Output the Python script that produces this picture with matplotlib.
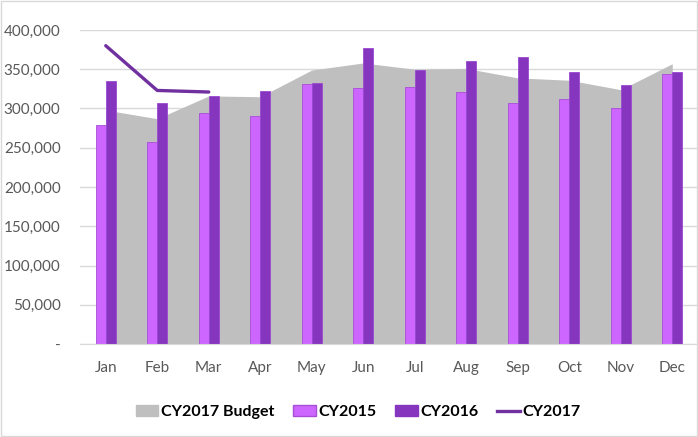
import matplotlib
matplotlib.use("Agg")
import matplotlib.pyplot as plt
from matplotlib.patches import Patch, Rectangle
from matplotlib.lines import Line2D
from matplotlib.ticker import FuncFormatter
import numpy as np

months = ["Jan", "Feb", "Mar", "Apr", "May", "Jun", "Jul", "Aug", "Sep", "Oct", "Nov", "Dec"]
budget_2017 = [298000, 287000, 316000, 315000, 349000, 358000, 350000, 351000, 339000, 336000, 324000, 357000]
cy2015 = [279000, 257000, 294000, 291000, 331000, 326000, 327000, 321000, 307000, 312000, 300000, 344000]
cy2016 = [335000, 307000, 316000, 322000, 333000, 377000, 349000, 360000, 366000, 347000, 330000, 346000]
cy2017 = [380000, 323000, 321000]
yticks = [0, 50000, 100000, 150000, 200000, 250000, 300000, 350000, 400000]

plt.rcParams['font.family'] = ['Lato', 'DejaVu Sans']

fig = plt.figure(figsize=(6.98, 4.37), dpi=100)
ax = fig.add_axes([80/698, 1-344/437, 618/698, 314/437])

x = np.arange(len(months))
w = 0.19
gray = "#BFBFBF"
pink = "#CC66FF"
purple = "#8535BE"
line_c = "#7030A0"

ax.fill_between(x, budget_2017, 0, color=gray, lw=0, zorder=1)
ax.bar(x - w/2, cy2015, width=w, color=pink, edgecolor="#A64FD6", linewidth=0.6, zorder=2)
ax.bar(x + w/2, cy2016, width=w, color=purple, edgecolor="#9A4AD0", linewidth=0.6, zorder=2)
ax.plot(x[:len(cy2017)], cy2017, color=line_c, lw=2.4, zorder=3, solid_capstyle='round')

ax.set_xlim(-0.5, 11.5)
ax.set_ylim(0, 400000)
ax.set_yticks(yticks)
ax.yaxis.set_major_formatter(FuncFormatter(lambda v, p: "-" if v == 0 else f"{int(v):,}"))
ax.set_xticks(x)
ax.set_xticklabels(months)
ax.grid(axis='y', color="#D9D9D9", lw=1, zorder=0)
ax.set_axisbelow(True)
for s in ["top", "right", "left"]:
    ax.spines[s].set_visible(False)
ax.spines["bottom"].set_color("#D9D9D9")
ax.tick_params(axis='both', length=0, colors="#595959", labelsize=11)
ax.tick_params(axis='y', pad=14)
ax.tick_params(axis='x', pad=12)

handles = [Patch(facecolor=gray, edgecolor=gray),
           Patch(facecolor=pink, edgecolor="#A64FD6"),
           Patch(facecolor=purple, edgecolor=purple),
           Line2D([0], [0], color=line_c, lw=2.4)]
labels = ["CY2017 Budget", "CY2015", "CY2016", "CY2017"]
fig.legend(handles, labels, loc='center', bbox_to_anchor=(358/698, 1-412/437), ncol=4,
           frameon=False, prop={'weight': 'bold', 'size': 11.5}, handlelength=1.4,
           handletextpad=0.15, columnspacing=1.2)

fig.patches.append(Rectangle((0.002, 0.002), 0.996, 0.996, transform=fig.transFigure,
                             fill=False, edgecolor="#D9D9D9", lw=1))

fig.savefig("out.png", dpi=100)
